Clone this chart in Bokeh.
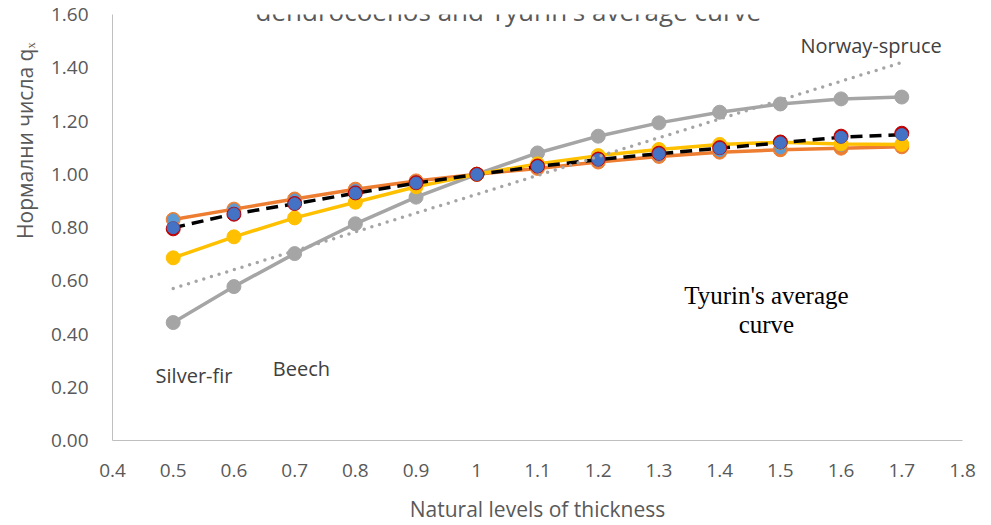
from bokeh.plotting import figure
from bokeh.models import Range1d, FixedTicker, Label, Title
from bokeh.core.properties import value
from bokeh.embed import file_html
from bokeh.resources import INLINE

# Natural levels of thickness
levels = [0.5, 0.6, 0.7, 0.8, 0.9, 1.0, 1.1, 1.2, 1.3, 1.4, 1.5, 1.6, 1.7]

# Normal numbers q_x per species / curve
spruce_qx = [0.443, 0.578, 0.702, 0.814, 0.914, 1.000, 1.080, 1.143, 1.193, 1.233, 1.264, 1.283, 1.290]
beech_qx = [0.830, 0.869, 0.907, 0.944, 0.975, 1.000, 1.022, 1.046, 1.067, 1.083, 1.092, 1.098, 1.103]
beech2_qx = [0.830, 0.868, 0.905, 0.942, 0.973, 1.000, 1.025, 1.049, 1.070, 1.087, 1.097, 1.107, 1.110]
fir_qx = [0.686, 0.765, 0.836, 0.895, 0.953, 1.000, 1.039, 1.070, 1.093, 1.112, 1.120, 1.114, 1.112]
tyurin_qx = [0.799, 0.851, 0.889, 0.929, 0.967, 0.999, 1.029, 1.055, 1.077, 1.098, 1.118, 1.139, 1.149]
tyurin2_qx = [0.795, 0.850, 0.890, 0.930, 0.968, 1.000, 1.031, 1.057, 1.079, 1.100, 1.121, 1.143, 1.154]

# Linear trend of the spruce curve (end points)
trend_x = [0.5, 1.7]
trend_y = [0.571, 1.420]

x_ticks = [0.4, 0.5, 0.6, 0.7, 0.8, 0.9, 1.0, 1.1, 1.2, 1.3, 1.4, 1.5, 1.6, 1.7, 1.8]
x_tick_labels = ["0.4", "0.5", "0.6", "0.7", "0.8", "0.9", "1", "1.1", "1.2", "1.3",
                 "1.4", "1.5", "1.6", "1.7", "1.8"]
y_ticks = [0.0, 0.2, 0.4, 0.6, 0.8, 1.0, 1.2, 1.4, 1.6]
y_tick_labels = ["0.00", "0.20", "0.40", "0.60", "0.80", "1.00", "1.20", "1.40", "1.60"]

FONT = "Open Sans"
GREY_TXT = "#595959"

p = figure(width=991, height=525, output_backend="svg", toolbar_location=None,
           x_range=Range1d(0.4, 1.8), y_range=Range1d(0.0, 1.6),
           min_border_left=112, min_border_right=29, min_border_top=14,
           min_border_bottom=85)
p.outline_line_color = None
p.xgrid.visible = False
p.ygrid.visible = False

for ax in (p.xaxis[0], p.yaxis[0]):
    ax.axis_line_color = "#BFBFBF"
    ax.axis_line_width = 1
    ax.major_tick_line_color = None
    ax.minor_tick_line_color = None
    ax.major_label_text_font = FONT
    ax.major_label_text_font_size = "19px"
    ax.major_label_text_color = GREY_TXT
    ax.axis_label_text_font = FONT
    ax.axis_label_text_font_size = "21px"
    ax.axis_label_text_font_style = "normal"
    ax.axis_label_text_color = GREY_TXT

p.xaxis.ticker = FixedTicker(ticks=x_ticks)
p.xaxis.major_label_overrides = dict(zip(x_ticks, x_tick_labels))
p.xaxis.major_label_standoff = 17
p.xaxis.axis_label = "Natural levels of thickness"
p.xaxis.axis_label_standoff = 15

p.yaxis.ticker = FixedTicker(ticks=y_ticks)
p.yaxis.major_label_overrides = dict(zip(y_ticks, y_tick_labels))
p.yaxis.major_label_standoff = 18

# y axis title, set in its own side panel, ending a little below the top
p.add_layout(Title(text="Нормални числа qₓ", align="right", offset=28, standoff=17,
                   text_font=FONT, text_font_size="21px", text_color=GREY_TXT,
                   text_font_style="normal"), "left")

LW = 3.5
# grey spruce curve
p.line(levels, spruce_qx, line_color="#A5A5A5", line_width=LW)
p.scatter(levels, spruce_qx, size=14, fill_color="#A5A5A5", line_color="#A5A5A5")
# orange beech curve
p.line(levels, beech_qx, line_color="#ED7D31", line_width=LW)
p.scatter(levels, beech_qx, size=14, fill_color="#ED7D31", line_color="#ED7D31")
p.scatter(levels, beech2_qx, size=11, fill_color="#5B9BD5", line_color="#5B9BD5")
# yellow fir curve
p.line(levels, fir_qx, line_color="#FFC000", line_width=LW)
p.scatter(levels, fir_qx, size=14, fill_color="#FFC000", line_color="#FFC000")
# Tyurin's average curve
p.line(levels, tyurin_qx, line_color="black", line_width=3.5, line_dash="12 7")
p.scatter(levels, tyurin2_qx, size=14, fill_color="#C00000", line_color="#C00000")
p.scatter(levels, tyurin_qx, size=12, fill_color="#4472C4", line_color="#4472C4")
# dotted trend line
p.line(trend_x, trend_y, line_color="#A5A5A5", line_width=3.5, line_dash="0 8",
       line_cap="round")

# curve names
p.text(x=[0.471], y=[0.244], text=["Silver-fir"], text_font=value(FONT),
       text_font_size="20px", text_color="#404040", text_baseline="middle")
p.text(x=[0.664], y=[0.270], text=["Beech"], text_font=value(FONT),
       text_font_size="20px", text_color="#404040", text_baseline="middle")
p.text(x=[1.533], y=[1.484], text=["Norway-spruce"], text_font=value(FONT),
       text_font_size="20px", text_color="#404040", text_baseline="middle")
p.text(x=[1.477, 1.477], y=[0.545, 0.436], text=["Tyurin's average", "curve"],
       text_font=value("Liberation Serif"), text_font_size="25px",
       text_color="black", text_baseline="middle", text_align="center")

# chart title (runs past the top edge)
p.add_layout(Label(x=1.052, y=1.615, text="dendrocoenos and Tyurin's average curve",
                   text_font=FONT, text_font_size="26px", text_color=GREY_TXT,
                   text_align="center", text_baseline="alphabetic"))

open("out.html", "w").write(file_html(p, INLINE))
